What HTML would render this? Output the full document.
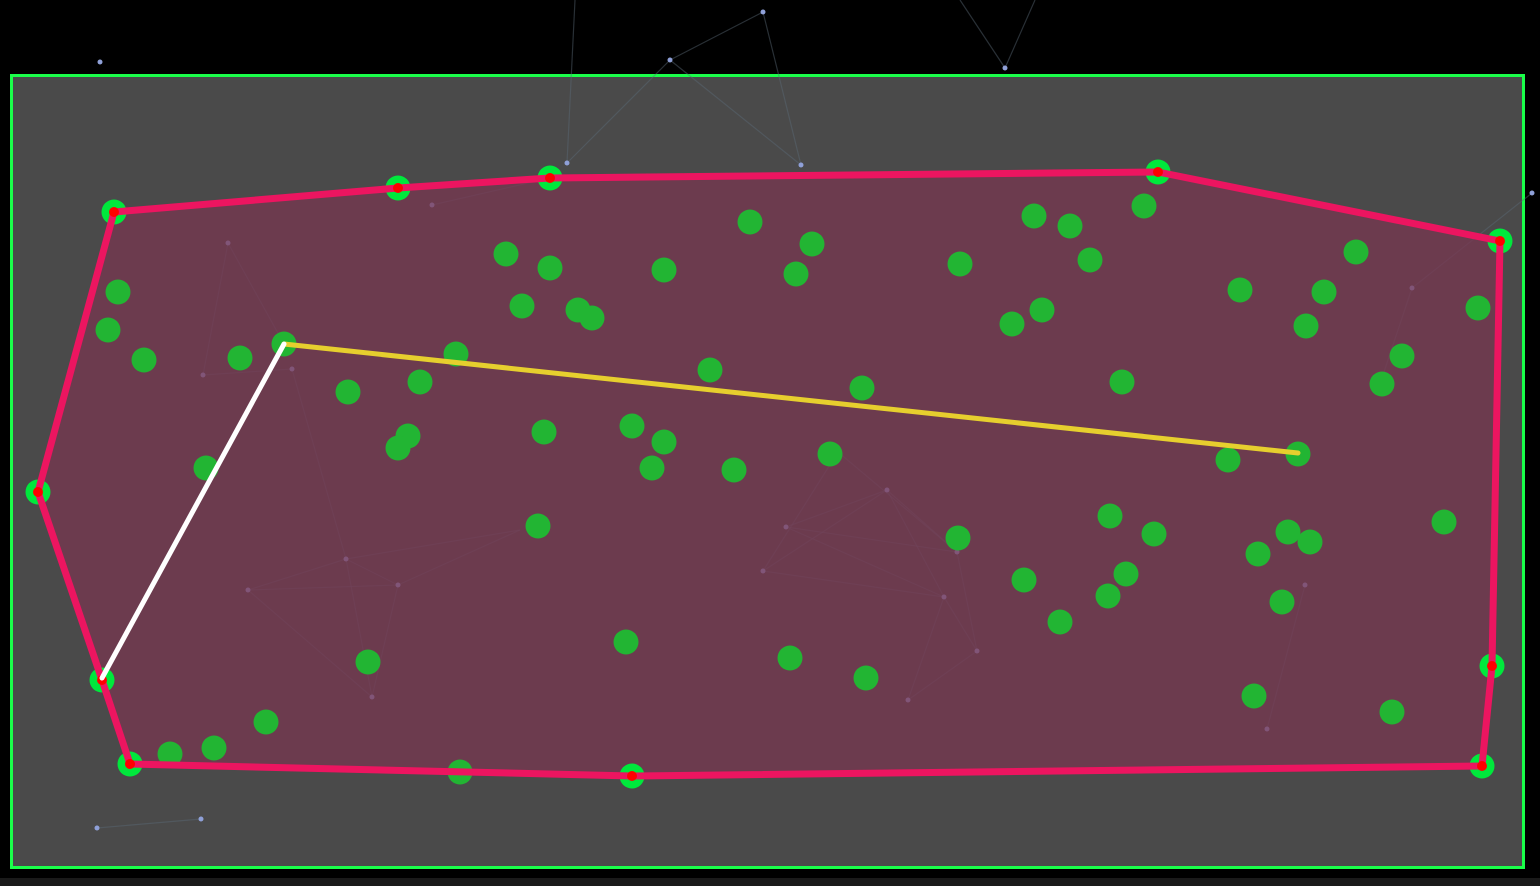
<!DOCTYPE html>
<html><head><meta charset="utf-8"><style>
html,body{margin:0;padding:0;background:#000;width:1540px;height:886px;overflow:hidden;font-family:"Liberation Sans",sans-serif}
svg{display:block}
</style></head><body>
<svg id="chart" width="1540" height="886">
<rect x="0" y="878" width="1540" height="8" fill="#1a1a1a"/>
<rect x="11.5" y="75.5" width="1512" height="792" fill="#4a4a4a" stroke="#1aff4a" stroke-width="3"/>
<g id="net"></g>
<g id="hull"></g>
<g id="pts"></g>
</svg>
<script>
const hullX=[114,398,550,1158,1500,1492,1482,632,130,102,38];
const hullY=[212,188,178,172,241,666,766,776,764,680,492];
const ptX=[118,108,144,240,284,348,420,456,408,398,206,506,550,522,578,592,664,750,812,796,710,862,544,632,664,652,734,830,538,960,1034,1070,1144,1090,1012,1042,1122,1240,1324,1306,1356,1478,1402,1382,1228,1298,958,1110,1154,1288,1310,1258,1444,1024,1126,1108,1282,1060,626,790,866,368,266,170,214,1254,1392,460];
const ptY=[292,330,360,358,344,392,382,354,436,448,468,254,268,306,310,318,270,222,244,274,370,388,432,426,442,468,470,454,526,264,216,226,206,260,324,310,382,290,292,326,252,308,356,384,460,454,538,516,534,532,542,554,522,580,574,596,602,622,642,658,678,662,722,754,748,696,712,772];
const netA=[[670,60,763,12],[670,60,567,163],[670,60,801,165],[763,12,801,165],[575,0,567,163],[1005,68,1035,0],[960,0,1005,68],[432,205,550,178],[228,243,203,375],[228,243,284,344],[203,375,292,369],[292,369,346,559],[248,590,346,559],[248,590,398,585],[346,559,398,585],[398,585,520,530],[248,590,372,697],[346,559,372,697],[398,585,372,697],[346,559,520,530],[786,527,887,490],[786,527,944,597],[763,571,887,490],[763,571,944,597],[887,490,944,597],[887,490,957,552],[838,452,957,552],[838,452,763,571],[957,552,977,651],[944,597,977,651],[944,597,908,700],[977,651,908,700],[786,527,957,552],[1305,585,1267,729],[1412,288,1384,372],[1412,288,1532,193],[97,828,201,819]];
const netDots=[[100,62],[670,60],[763,12],[567,163],[801,165],[1005,68],[432,205],[228,243],[203,375],[292,369],[346,559],[248,590],[398,585],[372,697],[786,527],[887,490],[763,571],[944,597],[957,552],[977,651],[908,700],[1305,585],[1267,729],[1412,288],[1532,193],[97,828],[201,819]];
const NS='http://www.w3.org/2000/svg';
function mk(t,a,p){const e=document.createElementNS(NS,t);for(const k in a)e.setAttribute(k,a[k]);p.appendChild(e);return e;}
const net=document.getElementById('net');
netA.forEach(s=>{const l=mk('line',{x1:s[0],y1:s[1],x2:s[2],y2:s[3],stroke:'#5a6a78','stroke-opacity':0.45,'stroke-width':1.2},net);

});
netDots.forEach(d=>{const c=mk('circle',{cx:d[0],cy:d[1],r:2.5,fill:'#8fa0d8'},net);

});
const hull=document.getElementById('hull');
const pstr=hullX.map((x,i)=>x+','+hullY[i]).join(' ');
const poly=mk('polygon',{points:pstr,fill:'#7a3550','fill-opacity':0.7,stroke:'none'},hull);


const pts=document.getElementById('pts');
ptX.forEach((x,i)=>{const c=mk('circle',{cx:x,cy:ptY[i],r:12.5,fill:'#22b533'},pts);

});
hullX.forEach((x,i)=>{const c=mk('circle',{cx:x,cy:hullY[i],r:12.5,fill:'#00e83c'},pts);

});
const outline=mk('polygon',{points:pstr,fill:'none',stroke:'#ec1560','stroke-width':7,'stroke-linejoin':'round'},pts);


hullX.forEach((x,i)=>{const c=mk('circle',{cx:x,cy:hullY[i],r:5,fill:'#ff0000'},pts);

});
const y=mk('line',{x1:284,y1:344,x2:1298,y2:453,stroke:'#e6cf2e','stroke-width':5,'stroke-linecap':'round'},pts);


const w=mk('line',{x1:284,y1:344,x2:102,y2:678,stroke:'#ffffff','stroke-width':5,'stroke-linecap':'round'},pts);


</script>
</body></html>
